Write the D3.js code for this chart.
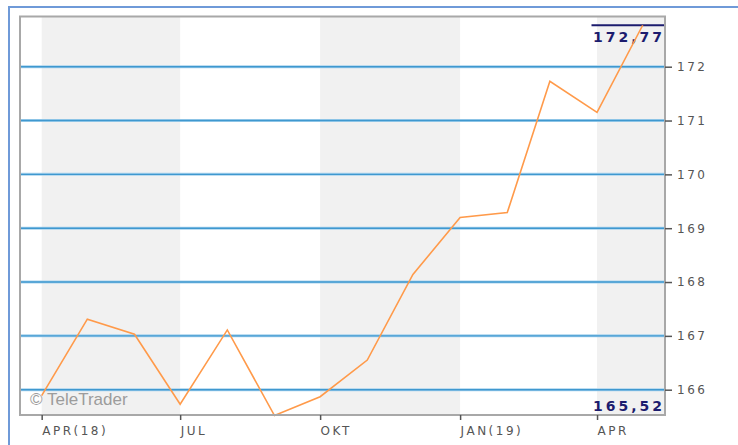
<!DOCTYPE html>
<html>
<head>
<meta charset="utf-8">
<script src="https://cdn.jsdelivr.net/npm/d3@7"></script>
<style>
  html, body { margin: 0; padding: 0; background: #fff; }
  svg { display: block; }
</style>
</head>
<body>
<div id="chart"></div>
<script>
// monthly closing values, Apr 2018 .. May 2019
var months = ["2018-04", "2018-05", "2018-06", "2018-07", "2018-08", "2018-09", "2018-10",
              "2018-11", "2018-12", "2019-01", "2019-02", "2019-03", "2019-04", "2019-05"];
var values = [165.89, 167.31, 167.03, 165.73, 167.11, 165.52, 165.87,
              166.55, 168.14, 169.20, 169.29, 171.73, 171.15, 172.77];
var yTicks = [166, 167, 168, 169, 170, 171, 172];
var xTicks = ["2018-04", "2018-07", "2018-10", "2019-01", "2019-04"];
var xTickLabels = ["APR(18)", "JUL", "OKT", "JAN(19)", "APR"];
var maxLabel = "172,77";
var minLabel = "165,52";

var width = 738, height = 445;
// plot box (note: "top" is reserved on window, so use plotTop)
var plotLeft = 20, plotRight = 665, plotTop = 16.5, plotBottom = 415;

var parse = d3.timeParse("%Y-%m");
var data = months.map(function(m, i) { return {date: parse(m), value: values[i]}; });

var x = d3.scaleTime()
    .domain([new Date(2018, 2, 17, 18), new Date(2019, 4, 15, 16)])
    .range([plotLeft, plotRight]);

var y = d3.scaleLinear()
    .domain([166, 172])
    .range([389.7, 66.7]);

var svg = d3.select('#chart').append('svg')
    .attr('width', width)
    .attr('height', height);

// outer frame
svg.append('rect')
    .attr('x', 9).attr('y', 7)
    .attr('width', width + 10).attr('height', height + 10)
    .attr('fill', 'none')
    .attr('stroke', '#6f9ad8')
    .attr('stroke-width', 2);

var plot = svg.append('g');

plot.append('rect')
    .attr('x', plotLeft).attr('y', plotTop)
    .attr('width', plotRight - plotLeft).attr('height', plotBottom - plotTop)
    .attr('fill', '#fff');

// shaded quarters (every other one)
var quarters = d3.timeMonth.every(3).range(new Date(2018, 3, 1), x.domain()[1]);
quarters.forEach(function(q, i) {
    if (i % 2 === 1) return;
    var x0 = x(q);
    var x1 = Math.min(plotRight, x(d3.timeMonth.offset(q, 3)));
    plot.append('rect')
        .attr('x', x0).attr('y', plotTop)
        .attr('width', x1 - x0).attr('height', plotBottom - plotTop)
        .attr('fill', '#f1f1f1');
});

// horizontal grid
plot.selectAll('.grid-halo')
    .data(yTicks)
    .join('line')
    .attr('class', 'grid-halo')
    .attr('x1', plotLeft).attr('x2', plotRight)
    .attr('y1', d => y(d)).attr('y2', d => y(d))
    .attr('stroke', '#a9d3ee')
    .attr('stroke-width', 3);
plot.selectAll('.grid')
    .data(yTicks)
    .join('line')
    .attr('class', 'grid')
    .attr('x1', plotLeft).attr('x2', plotRight)
    .attr('y1', d => y(d)).attr('y2', d => y(d))
    .attr('stroke', '#3f98cf')
    .attr('stroke-width', 1.4);

// watermark
plot.append('text')
    .attr('x', 30).attr('y', 405)
    .attr('font-family', 'Liberation Sans, Arial, sans-serif')
    .attr('font-size', 17)
    .attr('fill', '#9c9c9c')
    .text('\u00a9 TeleTrader');

// max marker
plot.append('line')
    .attr('x1', 591.5).attr('x2', plotRight - 1)
    .attr('y1', y(d3.max(values))).attr('y2', y(d3.max(values)))
    .attr('stroke', '#1c1c6e')
    .attr('stroke-width', 2);

[[maxLabel, 42], [minLabel, 411]].forEach(function(l) {
    plot.append('text')
        .attr('x', 662 + 3).attr('y', l[1])
        .attr('text-anchor', 'end')
        .attr('font-family', 'DejaVu Sans, sans-serif')
        .attr('font-weight', 'bold')
        .attr('font-size', 14)
        .attr('letter-spacing', 3)
        .attr('fill', '#1c1c6e')
        .text(l[0]);
});

// price line
var line = d3.line()
    .x(d => x(d.date))
    .y(d => y(d.value));

plot.append('path')
    .datum(data)
    .attr('d', line)
    .attr('fill', 'none')
    .attr('stroke', '#ff9a4a')
    .attr('stroke-width', 1.6)
    .attr('stroke-linejoin', 'miter');

// plot border
plot.append('rect')
    .attr('x', plotLeft).attr('y', plotTop)
    .attr('width', plotRight - plotLeft).attr('height', plotBottom - plotTop)
    .attr('fill', 'none')
    .attr('stroke', '#a8a8a8')
    .attr('stroke-width', 2);

// right axis
var yAxis = d3.axisRight(y)
    .tickValues(yTicks)
    .tickSize(7)
    .tickPadding(5)
    .tickFormat(d3.format('d'));

var gy = svg.append('g')
    .attr('transform', 'translate(' + plotRight + ',0)')
    .call(yAxis);
gy.select('.domain').remove();
gy.selectAll('.tick line').attr('stroke', '#555').attr('stroke-width', 1.5);
gy.selectAll('.tick text')
    .attr('fill', '#555')
    .attr('font-family', 'DejaVu Sans, sans-serif')
    .attr('font-size', 12)
    .attr('letter-spacing', 2.5);

// bottom axis
var xAxis = d3.axisBottom(x)
    .tickValues(xTicks.map(parse))
    .tickSize(5)
    .tickPadding(6)
    .tickFormat((d, i) => xTickLabels[i]);

var gx = svg.append('g')
    .attr('transform', 'translate(0,' + plotBottom + ')')
    .call(xAxis);
gx.select('.domain').remove();
gx.selectAll('.tick line').attr('stroke', '#555').attr('stroke-width', 1.5);
gx.selectAll('.tick text')
    .attr('text-anchor', 'start')
    .attr('x', 0)
    .attr('fill', '#555')
    .attr('font-family', 'DejaVu Sans, sans-serif')
    .attr('font-size', 12)
    .attr('letter-spacing', 2.5);
</script>
</body>
</html>
